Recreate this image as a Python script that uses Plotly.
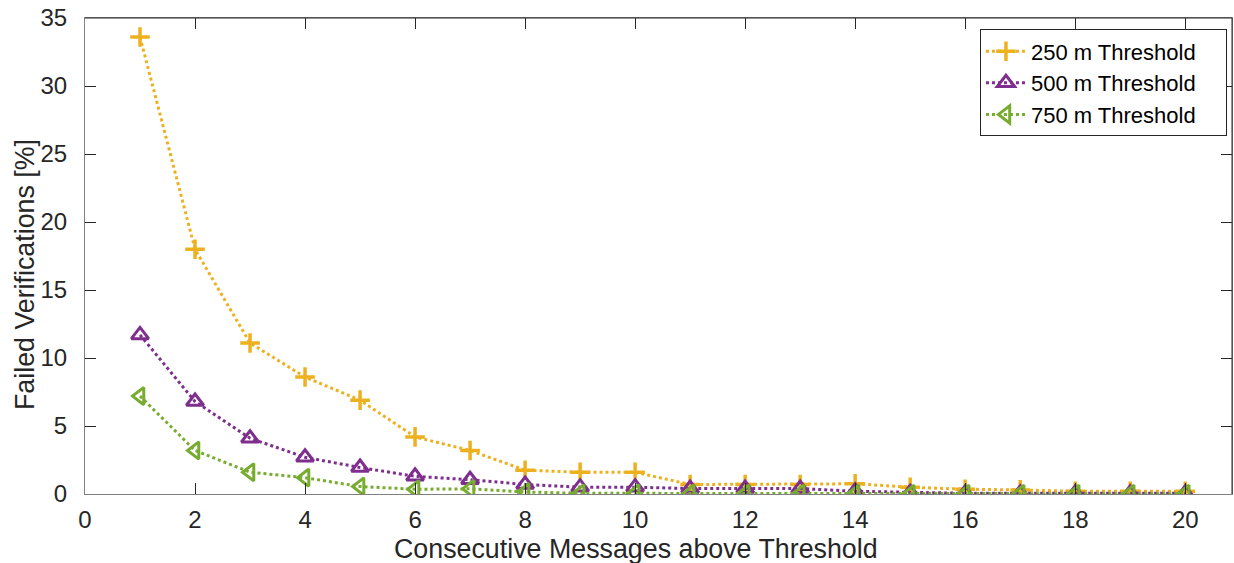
import plotly.graph_objects as go

x_vals = list(range(1, 21))
y_250 = [33.6, 18.0, 11.1, 8.6, 6.9, 4.2, 3.2, 1.75, 1.6, 1.6,
         0.7, 0.7, 0.7, 0.75, 0.5, 0.35, 0.3, 0.2, 0.2, 0.2]
y_500 = [11.7, 6.8, 4.1, 2.7, 1.95, 1.3, 1.05, 0.7, 0.5, 0.5,
         0.4, 0.4, 0.4, 0.2, 0.1, 0.05, 0.05, 0.05, 0.05, 0.05]
y_750 = [7.2, 3.2, 1.6, 1.2, 0.55, 0.35, 0.38, 0.15, 0.05, 0.05,
         0.03, 0.03, 0.03, 0.03, 0.02, 0.02, 0.02, 0.02, 0.02, 0.02]
names = ["250 m Threshold", "500 m Threshold", "750 m Threshold"]
colors = ["#EDB120", "#7E2F8E", "#77AC30"]
symbols = ["cross-thin", "triangle-up-open", "triangle-left-open"]
x_ticks = [0, 2, 4, 6, 8, 10, 12, 14, 16, 18, 20]
y_ticks = [0, 5, 10, 15, 20, 25, 30, 35]

fig = go.Figure()
for ys, name, col, sym in zip([y_250, y_500, y_750], names, colors, symbols):
    is_cross = sym == "cross-thin"
    fig.add_trace(go.Scatter(
        x=x_vals, y=ys, name=name + "\u00a0\u00a0\u00a0\u00a0", mode="lines+markers",
        line=dict(color=col, width=3, dash="dot"),
        marker=dict(symbol=sym, size=14 if is_cross else 15,
                    color=col, line=dict(color=col, width=3.5 if is_cross else 3)),
    ))

font_family = "Liberation Sans, Arial, Helvetica, sans-serif"
axis_common = dict(
    showgrid=False, zeroline=False, showline=True, linecolor="#808080", linewidth=1,
    mirror="ticks", ticks="inside", ticklen=11, tickcolor="#262626", tickwidth=1,
    tickfont=dict(size=24, color="#262626", family=font_family),
)
fig.update_layout(
    width=1234, height=563,
    margin=dict(l=85, r=2, t=18, b=69),
    paper_bgcolor="white", plot_bgcolor="white",
    font=dict(family=font_family, color="#262626"),
    xaxis=dict(range=[0, 20.85], tickvals=x_ticks, ticklabelstandoff=4, **axis_common),
    yaxis=dict(range=[0, 35], tickvals=y_ticks, ticklabelstandoff=12, **axis_common),
    legend=dict(x=0.9956, y=0.976, xanchor="right", yanchor="top",
                bgcolor="white", bordercolor="#262626", borderwidth=1,
                font=dict(size=22, color="#000000", family=font_family),
                itemwidth=40, tracegroupgap=0),
    showlegend=True,
    annotations=[
        dict(text="Consecutive Messages above Threshold", xref="paper", yref="paper",
             x=0.4804, y=-0.1155, xanchor="center", yanchor="middle", showarrow=False,
             font=dict(size=26.8, color="#262626", family=font_family)),
        dict(text="Failed Verifications [%]", xref="paper", yref="paper",
             x=-0.0523, y=0.46, xanchor="center", yanchor="middle", showarrow=False,
             textangle=-90, font=dict(size=26.8, color="#262626", family=font_family)),
    ],
    shapes=[
        dict(type="line", xref="paper", yref="paper", x0=0, x1=1, y0=1, y1=1,
             line=dict(color="#262626", width=1)),
        dict(type="line", xref="paper", yref="paper", x0=1, x1=1, y0=0, y1=1,
             line=dict(color="#262626", width=1)),
    ],
)
fig.write_html("out.html")
